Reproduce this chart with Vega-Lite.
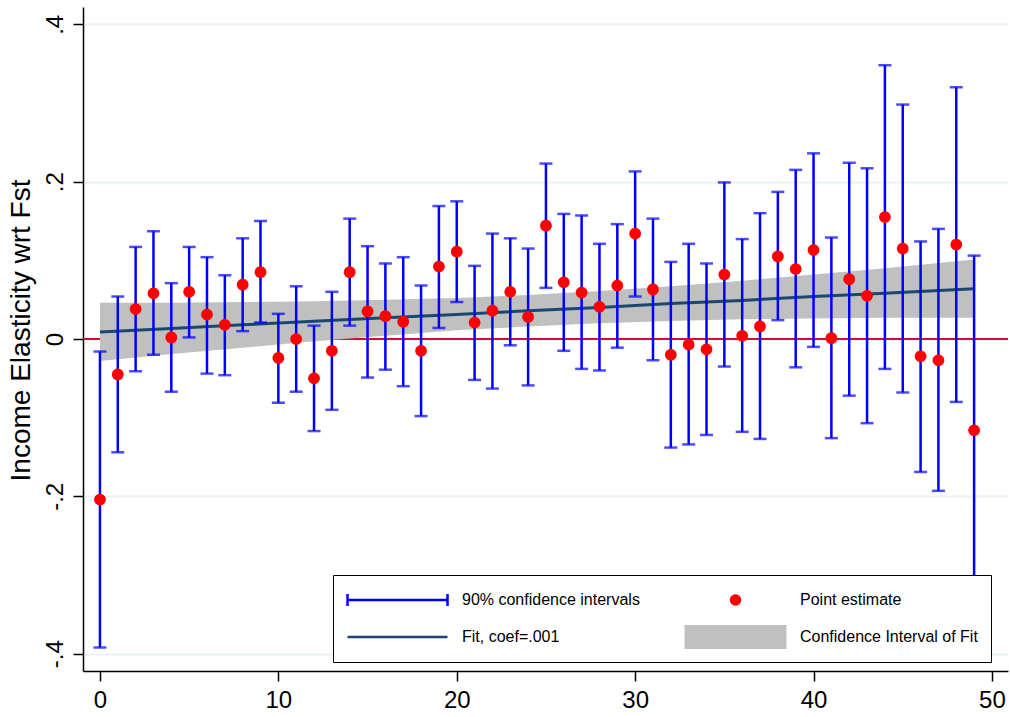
{
  "$schema": "https://vega.github.io/schema/vega-lite/v6.json",
  "width": 925,
  "height": 664,
  "autosize": {"type": "none"},
  "padding": {"left": 83, "top": 7, "right": 2, "bottom": 46},
  "background": "white",
  "config": {
    "font": "Liberation Sans",
    "view": {"stroke": null},
    "axis": {"domainColor": "#000000", "tickColor": "#000000", "labelColor": "#000000", "titleColor": "#000000", "domainWidth": 1.5, "tickWidth": 1.5, "tickSize": 10, "labelFontSize": 24, "titleFontSize": 28, "titleFontWeight": "normal", "labelFont": "Liberation Sans", "titleFont": "Liberation Sans"},
    "legend": {"labelFont": "Liberation Sans", "labelFontSize": 16, "labelColor": "#000000", "labelLimit": 400}
  },
  "datasets": {
    "est": [
      {"x": 0, "est": -0.204, "lo": -0.392, "hi": -0.016},
      {"x": 1, "est": -0.045, "lo": -0.144, "hi": 0.054},
      {"x": 2, "est": 0.038, "lo": -0.041, "hi": 0.117},
      {"x": 3, "est": 0.058, "lo": -0.020, "hi": 0.137},
      {"x": 4, "est": 0.002, "lo": -0.067, "hi": 0.071},
      {"x": 5, "est": 0.060, "lo": 0.002, "hi": 0.117},
      {"x": 6, "est": 0.031, "lo": -0.044, "hi": 0.104},
      {"x": 7, "est": 0.018, "lo": -0.046, "hi": 0.081},
      {"x": 8, "est": 0.069, "lo": 0.010, "hi": 0.128},
      {"x": 9, "est": 0.085, "lo": 0.021, "hi": 0.150},
      {"x": 10, "est": -0.024, "lo": -0.081, "hi": 0.032},
      {"x": 11, "est": 0.000, "lo": -0.067, "hi": 0.067},
      {"x": 12, "est": -0.050, "lo": -0.117, "hi": 0.017},
      {"x": 13, "est": -0.015, "lo": -0.090, "hi": 0.060},
      {"x": 14, "est": 0.085, "lo": 0.017, "hi": 0.153},
      {"x": 15, "est": 0.035, "lo": -0.049, "hi": 0.118},
      {"x": 16, "est": 0.029, "lo": -0.039, "hi": 0.096},
      {"x": 17, "est": 0.022, "lo": -0.060, "hi": 0.104},
      {"x": 18, "est": -0.015, "lo": -0.098, "hi": 0.068},
      {"x": 19, "est": 0.092, "lo": 0.014, "hi": 0.169},
      {"x": 20, "est": 0.111, "lo": 0.047, "hi": 0.175},
      {"x": 21, "est": 0.021, "lo": -0.052, "hi": 0.093},
      {"x": 22, "est": 0.036, "lo": -0.063, "hi": 0.134},
      {"x": 23, "est": 0.060, "lo": -0.008, "hi": 0.128},
      {"x": 24, "est": 0.028, "lo": -0.059, "hi": 0.115},
      {"x": 25, "est": 0.144, "lo": 0.065, "hi": 0.223},
      {"x": 26, "est": 0.072, "lo": -0.015, "hi": 0.159},
      {"x": 27, "est": 0.059, "lo": -0.038, "hi": 0.157},
      {"x": 28, "est": 0.041, "lo": -0.040, "hi": 0.121},
      {"x": 29, "est": 0.068, "lo": -0.011, "hi": 0.146},
      {"x": 30, "est": 0.134, "lo": 0.054, "hi": 0.213},
      {"x": 31, "est": 0.063, "lo": -0.027, "hi": 0.153},
      {"x": 32, "est": -0.020, "lo": -0.138, "hi": 0.098},
      {"x": 33, "est": -0.007, "lo": -0.134, "hi": 0.121},
      {"x": 34, "est": -0.013, "lo": -0.122, "hi": 0.096},
      {"x": 35, "est": 0.082, "lo": -0.035, "hi": 0.199},
      {"x": 36, "est": 0.004, "lo": -0.118, "hi": 0.127},
      {"x": 37, "est": 0.016, "lo": -0.127, "hi": 0.160},
      {"x": 38, "est": 0.105, "lo": 0.024, "hi": 0.187},
      {"x": 39, "est": 0.089, "lo": -0.036, "hi": 0.215},
      {"x": 40, "est": 0.113, "lo": -0.010, "hi": 0.236},
      {"x": 41, "est": 0.001, "lo": -0.126, "hi": 0.129},
      {"x": 42, "est": 0.076, "lo": -0.072, "hi": 0.224},
      {"x": 43, "est": 0.055, "lo": -0.107, "hi": 0.217},
      {"x": 44, "est": 0.155, "lo": -0.038, "hi": 0.348},
      {"x": 45, "est": 0.115, "lo": -0.068, "hi": 0.298},
      {"x": 46, "est": -0.022, "lo": -0.169, "hi": 0.124},
      {"x": 47, "est": -0.027, "lo": -0.193, "hi": 0.140},
      {"x": 48, "est": 0.120, "lo": -0.080, "hi": 0.320},
      {"x": 49, "est": -0.116, "lo": -0.337, "hi": 0.106}
    ],
    "fit": [
      {"x": 0, "fit": 0.009, "lo": -0.028, "hi": 0.046},
      {"x": 4, "fit": 0.0135, "lo": -0.019, "hi": 0.046},
      {"x": 8, "fit": 0.018, "lo": -0.011, "hi": 0.047},
      {"x": 12, "fit": 0.0225, "lo": -0.003, "hi": 0.048},
      {"x": 16, "fit": 0.027, "lo": 0.004, "hi": 0.050},
      {"x": 20, "fit": 0.031, "lo": 0.011, "hi": 0.052},
      {"x": 24, "fit": 0.036, "lo": 0.016, "hi": 0.056},
      {"x": 28, "fit": 0.040, "lo": 0.020, "hi": 0.061},
      {"x": 32, "fit": 0.045, "lo": 0.023, "hi": 0.067},
      {"x": 36, "fit": 0.049, "lo": 0.025, "hi": 0.074},
      {"x": 40, "fit": 0.054, "lo": 0.026, "hi": 0.082},
      {"x": 44, "fit": 0.058, "lo": 0.027, "hi": 0.090},
      {"x": 49, "fit": 0.064, "lo": 0.027, "hi": 0.101}
    ]
  },
  "layer": [
    {
      "data": {"name": "est"},
      "mark": {"type": "rule", "color": "#c8103c", "strokeWidth": 2},
      "encoding": {
        "y": {"datum": 0, "type": "quantitative", "scale": {"domain": [-0.422, 0.422], "nice": false, "zero": false},
          "axis": {"values": [-0.4, -0.2, 0, 0.2, 0.4], "labelExpr": "datum.value == 0 ? '0' : (datum.value < 0 ? '-' : '') + replace(format(abs(datum.value), '.1f'), '0.', '.')", "labelAngle": 270, "labelAlign": "center", "labelBaseline": "alphabetic", "labelPadding": 11, "grid": true, "gridColor": "#eaf2f3", "gridWidth": 2, "title": "Income Elasticity wrt Fst", "titlePadding": 8, "titleY": 323}}
      }
    },
    {
      "data": {"name": "fit"},
      "mark": {"type": "area", "color": "#c0c0c0", "opacity": 1},
      "encoding": {
        "x": {"field": "x", "type": "quantitative", "scale": {"domain": [-0.95, 50.9], "nice": false, "zero": false},
          "axis": {"values": [0, 10, 20, 30, 40, 50], "grid": false, "title": null, "labelPadding": 7, "labelFlush": false}},
        "y": {"field": "lo", "type": "quantitative"},
        "y2": {"field": "hi"},
        "color": {"datum": "Confidence Interval of Fit", "type": "nominal"}
      }
    },
    {
      "data": {"name": "fit"},
      "mark": {"type": "line", "strokeWidth": 3},
      "encoding": {
        "x": {"field": "x", "type": "quantitative"},
        "y": {"field": "fit", "type": "quantitative"},
        "color": {"datum": "Fit, coef=.001", "type": "nominal"}
      }
    },
    {
      "data": {"name": "est"},
      "mark": {"type": "rule", "strokeWidth": 2.5},
      "encoding": {
        "x": {"field": "x", "type": "quantitative"},
        "y": {"field": "lo", "type": "quantitative"},
        "y2": {"field": "hi"},
        "color": {"datum": "90% confidence intervals", "type": "nominal"}
      }
    },
    {
      "data": {"name": "est"},
      "mark": {"type": "tick", "orient": "horizontal", "size": 13, "thickness": 2.5},
      "encoding": {
        "x": {"field": "x", "type": "quantitative"},
        "y": {"field": "lo", "type": "quantitative"},
        "color": {"datum": "90% confidence intervals", "type": "nominal"}
      }
    },
    {
      "data": {"name": "est"},
      "mark": {"type": "tick", "orient": "horizontal", "size": 13, "thickness": 2.5},
      "encoding": {
        "x": {"field": "x", "type": "quantitative"},
        "y": {"field": "hi", "type": "quantitative"},
        "color": {"datum": "90% confidence intervals", "type": "nominal"}
      }
    },
    {
      "data": {"name": "est"},
      "mark": {"type": "point", "filled": true, "size": 16900, "opacity": 1},
      "encoding": {
        "x": {"field": "x", "type": "quantitative"},
        "y": {"field": "est", "type": "quantitative"},
        "color": {"datum": "Point estimate", "type": "nominal",
          "scale": {"domain": ["90% confidence intervals", "Fit, coef=.001", "Point estimate", "Confidence Interval of Fit"], "range": ["#0000ff", "#1a476f", "#ff0000", "#c0c0c0"]},
          "legend": {"orient": "none", "legendX": 250, "legendY": 568, "columns": 2, "title": null, "symbolSize": 10000, "padding": 13, "clipHeight": 24, "rowPadding": 13, "columnPadding": 44, "labelOffset": 13, "strokeColor": "#000000", "fillColor": "#ffffff", "symbolStrokeWidth": 2.5,
            "encode": {"symbols": {"update": {"fill": {"scale": "color", "field": "value"}, "stroke": {"scale": "color", "field": "value"}, "shape": {"scale": "shape", "field": "value"}, "strokeWidth": {"value": 2.5}, "opacity": {"value": 1}}}}}},
        "shape": {"datum": "Point estimate", "type": "nominal",
          "scale": {"domain": ["90% confidence intervals", "Fit, coef=.001", "Point estimate", "Confidence Interval of Fit"], "range": ["M-1,0L1,0M-1,-0.12L-1,0.12M1,-0.12L1,0.12", "M-1,0L1,0", "M-0.09,0A0.09,0.09 0 1,1 0.09,0A0.09,0.09 0 1,1 -0.09,0Z", "M-0.995,-0.265L0.995,-0.265L0.995,0.265L-0.995,0.265Z"]},
          "legend": null}
      }
    }
  ]
}
